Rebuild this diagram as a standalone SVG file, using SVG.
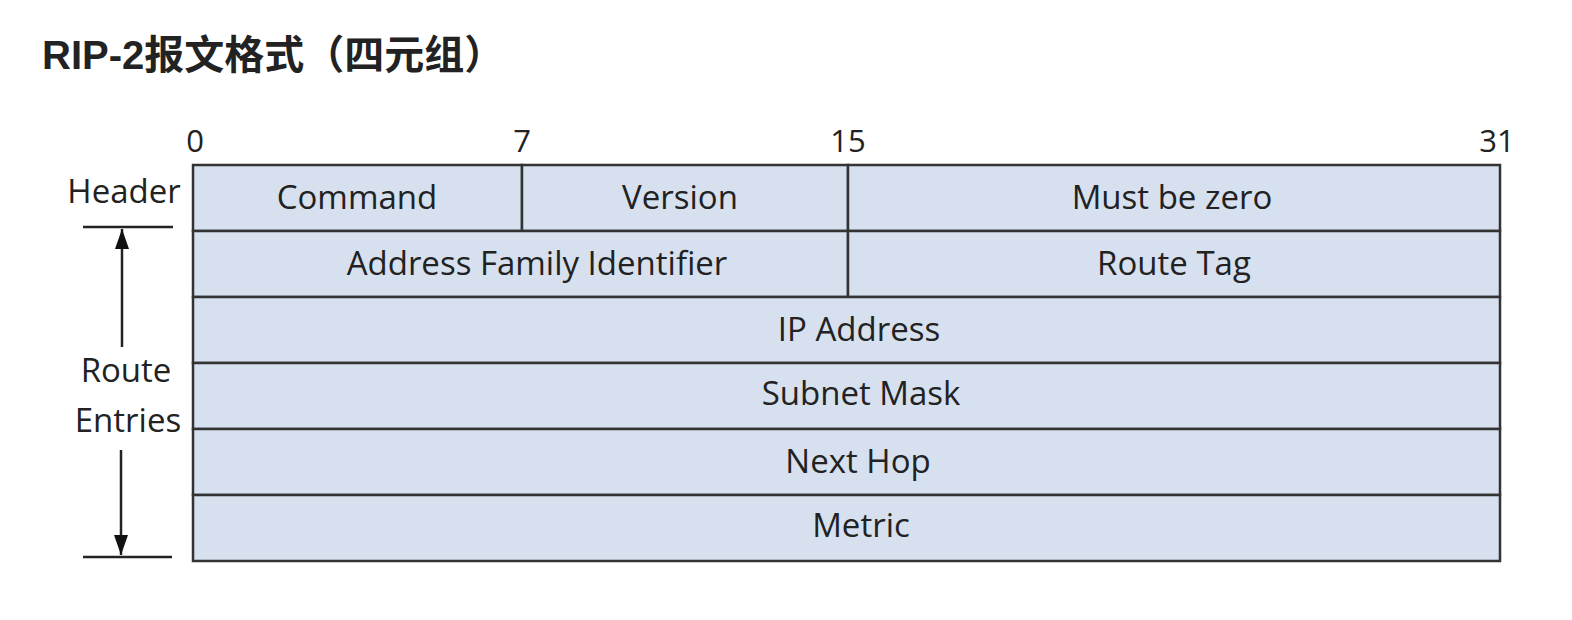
<svg xmlns="http://www.w3.org/2000/svg" width="1572" height="620" viewBox="0 0 1572 620">
<style>
.t{font-family:"Open Sans","Liberation Sans",sans-serif;font-size:33px;fill:#222;text-anchor:middle}
.n{font-family:"Open Sans","Liberation Sans",sans-serif;font-size:31px;fill:#222;text-anchor:middle}
.c{fill:#d6e0ef;stroke:#333;stroke-width:2.5}
.l{stroke:#222;stroke-width:2.5;fill:none}
</style>
<defs>
<marker id="ah" viewBox="0 0 20 14" refX="20" refY="7" markerWidth="20" markerHeight="14" markerUnits="userSpaceOnUse" orient="auto">
<path d="M0,0 L20,7 L0,14 Z" fill="#111"/>
</marker>
</defs>
<rect width="1572" height="620" fill="#fff"/>
<text x="42" y="69" font-family="'Liberation Sans','Noto Sans CJK SC',sans-serif" font-size="40" font-weight="bold" fill="#222">RIP-2报文格式（四元组）</text>
<g id="bits">
<text class="n" x="195" y="152">0</text>
<text class="n" x="522" y="152">7</text>
<text class="n" x="848" y="152">15</text>
<text class="n" x="1497" y="152">31</text>
</g>
<g id="command"><rect class="c" x="193" y="165" width="329" height="66"/><text class="t" x="357" y="209">Command</text></g>
<g id="version"><rect class="c" x="522" y="165" width="326" height="66"/><text class="t" x="680" y="209">Version</text></g>
<g id="mbz"><rect class="c" x="848" y="165" width="652" height="66"/><text class="t" x="1172" y="209">Must be zero</text></g>
<g id="afi"><rect class="c" x="193" y="231" width="655" height="66"/><text class="t" x="537" y="275">Address Family Identifier</text></g>
<g id="tag"><rect class="c" x="848" y="231" width="652" height="66"/><text class="t" x="1174" y="275">Route Tag</text></g>
<g id="ip"><rect class="c" x="193" y="297" width="1307" height="66"/><text class="t" x="859" y="341">IP Address</text></g>
<g id="mask"><rect class="c" x="193" y="363" width="1307" height="66"/><text class="t" x="861" y="405">Subnet Mask</text></g>
<g id="nexthop"><rect class="c" x="193" y="429" width="1307" height="66"/><text class="t" x="858" y="473">Next Hop</text></g>
<g id="metric"><rect class="c" x="193" y="495" width="1307" height="66"/><text class="t" x="861" y="537">Metric</text></g>
<g id="labels">
<text class="t" x="124" y="203">Header</text>
<text class="t" x="126" y="382">Route</text>
<text class="t" x="128" y="432">Entries</text>
</g>
<g id="connectors">
<line class="l" x1="83" y1="227" x2="173" y2="227"/>
<line class="l" x1="83" y1="557" x2="172" y2="557"/>
<line class="l" x1="122" y1="347" x2="122" y2="229" marker-end="url(#ah)"/>
<line class="l" x1="121" y1="450" x2="121" y2="555" marker-end="url(#ah)"/>
</g>
</svg>
